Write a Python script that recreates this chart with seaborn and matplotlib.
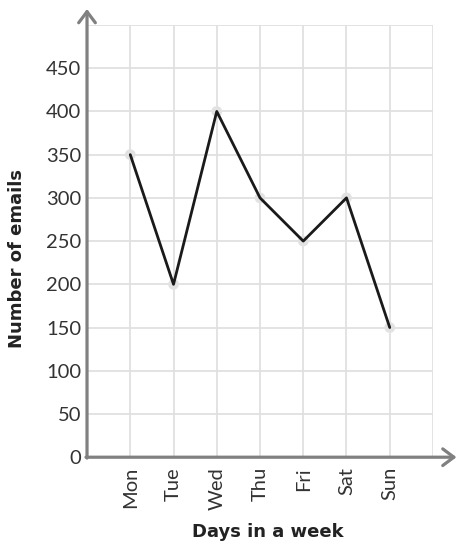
import pandas as pd
import matplotlib.pyplot as plt
import seaborn as sns

# данные
days = ['Mon', 'Tue', 'Wed', 'Thu', 'Fri', 'Sat', 'Sun']
emails = [350, 200, 400, 300, 250, 300, 150]
y_ticks = [0, 50, 100, 150, 200, 250, 300, 350, 400, 450]

df = pd.DataFrame({'day': days, 'emails': emails})

sns.set_style('white')
plt.rcParams['font.family'] = ['Lato', 'DejaVu Sans']

fig = plt.figure(figsize=(4.58, 5.43), dpi=100)
ax = fig.add_axes([0.19, 0.158, 0.7554, 0.796])

axis_col = '#808080'
grid_col = '#e0e0e0'

# маркеры под линией
sns.scatterplot(data=df, x='day', y='emails', ax=ax, color='#e2e2e2',
                s=60, edgecolor='none', zorder=3, clip_on=False)
sns.lineplot(data=df, x='day', y='emails', ax=ax, color='#1a1a1a',
             linewidth=2, sort=False, zorder=4)

ax.set_xlim(-1, 7)
ax.set_ylim(0, 500)
ax.set_xticks(range(-1, 8))
ax.set_xticklabels([''] + days + [''], rotation=90, fontsize=14.5, color='#333333')
ax.set_yticks(y_ticks + [500])
ax.set_yticklabels([str(v) for v in y_ticks] + [''], fontsize=14.5, color='#333333')

ax.grid(True, color=grid_col, linewidth=1.3)
ax.set_axisbelow(True)
for s in ax.spines.values():
    s.set_visible(False)

ax.tick_params(axis='y', direction='in', length=9, width=1.5, color=axis_col, pad=4)
ax.tick_params(axis='x', length=0, pad=7)
# убираем засечку у 500
ax.yaxis.get_major_ticks()[-1].tick1line.set_visible(False)

# оси со стрелками
arrow = dict(arrowstyle='->,head_length=0.8,head_width=0.6',
             color=axis_col, lw=2.3, shrinkA=0, shrinkB=0)
ax.annotate('', xy=(0, 1.037), xycoords='axes fraction', xytext=(0, -0.002),
            arrowprops=arrow)
ax.annotate('', xy=(1.068, 0), xycoords='axes fraction', xytext=(-0.003, 0),
            arrowprops=arrow)

ax.set_xlabel('Days in a week', fontsize=13, fontweight='bold', color='#222222',
              family='DejaVu Sans')
ax.set_ylabel('Number of emails', fontsize=13, fontweight='bold', color='#222222',
              family='DejaVu Sans')
ax.xaxis.set_label_coords(0.523, -0.153)
ax.yaxis.set_label_coords(-0.176, 0.46)

fig.savefig('out.png', dpi=100)
